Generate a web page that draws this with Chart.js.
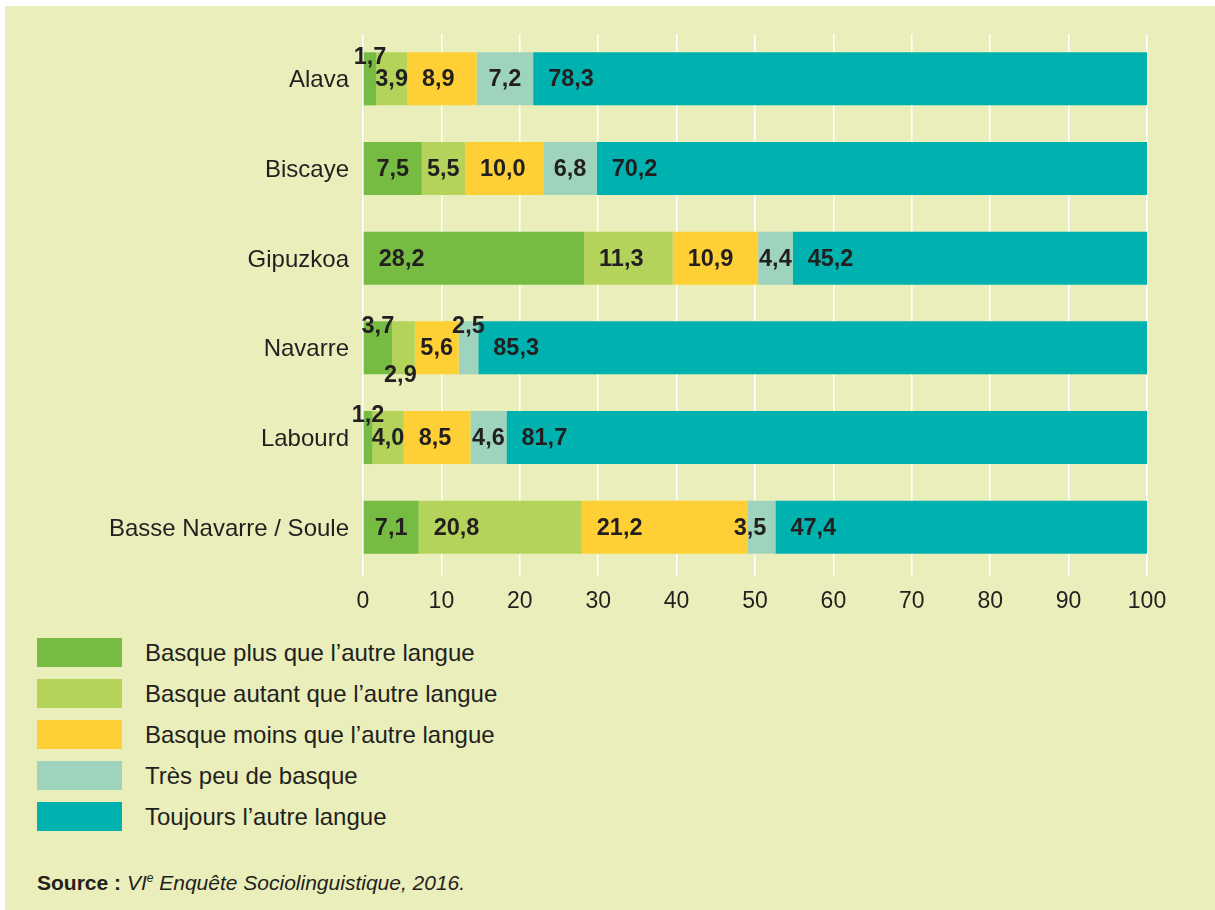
<!DOCTYPE html>
<html lang="fr">
<head>
<meta charset="utf-8">
<script src="https://cdn.jsdelivr.net/npm/chart.js@4/dist/chart.umd.min.js"></script>
<style>
  html, body { margin: 0; padding: 0; background: #ffffff; }
  #wrap { position: relative; width: 1215px; height: 910px; overflow: hidden; }
  #panel { position: absolute; left: 5px; top: 6px; right: 0; bottom: 0; background: #EAEEBA; }
  #chartBox { position: absolute; left: 0; top: 0; width: 1215px; height: 625px; }
  #legend { position: absolute; left: 37px; top: 638px; font-family: "Liberation Sans", Arial, sans-serif; font-size: 24px; color: #231F20; }
  .row { position: relative; height: 41px; }
  .sw { position: absolute; left: 0; top: 0; width: 85px; height: 29px; }
  .lt { position: absolute; left: 108px; top: 0; line-height: 29px; white-space: nowrap; }
  #source { position: absolute; left: 37px; top: 871px; font-family: "Liberation Sans", Arial, sans-serif; font-size: 21px; color: #231F20; white-space: nowrap; }
  #source b { font-weight: bold; }
  #source i sup { font-size: 12px; vertical-align: 8px; line-height: 0; }
</style>
</head>
<body>
<div id="wrap">
  <div id="panel"></div>
  <div id="chartBox"><canvas id="c" width="1215" height="625"></canvas></div>
  <div id="legend"></div>
  <div id="source"><b>Source :</b> <i>VI<sup>e</sup> Enquête Sociolinguistique, 2016.</i></div>
</div>
<script>
// ---- data ----
const categories = ["Alava", "Biscaye", "Gipuzkoa", "Navarre", "Labourd", "Basse Navarre / Soule"];
const seriesNames = [
  "Basque plus que l\u2019autre langue",
  "Basque autant que l\u2019autre langue",
  "Basque moins que l\u2019autre langue",
  "Tr\u00e8s peu de basque",
  "Toujours l\u2019autre langue"
];
const plusQue    = [1.7, 7.5, 28.2, 3.7, 1.2, 7.1];
const autantQue  = [3.9, 5.5, 11.3, 2.9, 4.0, 20.8];
const moinsQue   = [8.9, 10.0, 10.9, 5.6, 8.5, 21.2];
const tresPeu    = [7.2, 6.8, 4.4, 2.5, 4.6, 3.5];
const toujours   = [78.3, 70.2, 45.2, 85.3, 81.7, 47.4];
const xTicks = [0, 10, 20, 30, 40, 50, 60, 70, 80, 90, 100];

// ---- styles ----
const colors = ["#76BC43", "#B3D35A", "#FFD035", "#9ED4BD", "#00B2AF"];
const textColor = "#231F20";
const fontFamily = '"Liberation Sans", Arial, sans-serif';

// label placement overrides for narrow segments (presentation only)
const labelPlacement = {
  "Alava": {0: "above"},
  "Navarre": {0: "above", 1: "below", 3: "above"},
  "Labourd": {0: "above"},
  "Basse Navarre / Soule": {3: "left"}
};

const allSeries = [plusQue, autantQue, moinsQue, tresPeu, toujours];

const fmt = v => v.toFixed(1).replace(".", ",");

const valueLabels = {
  id: "valueLabels",
  afterDatasetsDraw(chart) {
    const ctx = chart.ctx;
    ctx.save();
    ctx.font = "bold 23.5px " + fontFamily;
    ctx.fillStyle = textColor;
    ctx.textBaseline = "middle";
    chart.data.datasets.forEach((ds, di) => {
      const meta = chart.getDatasetMeta(di);
      meta.data.forEach((el, i) => {
        const v = ds.data[i];
        const txt = fmt(v);
        const w = ctx.measureText(txt).width;
        const x0 = Math.min(el.base, el.x), x1 = Math.max(el.base, el.x);
        const top = el.y - el.height / 2, bottom = el.y + el.height / 2;
        const center = (x0 + x1) / 2;
        const place = (labelPlacement[categories[i]] || {})[di];
        let x, y = el.y + 1;
        ctx.textAlign = "center";
        if (place === "above") {
          x = center; y = top + 5;
        } else if (place === "below") {
          x = center - 3; y = bottom + 1;
        } else if (place === "left") {
          ctx.textAlign = "right";
          x = x1 - 9;
        } else {
          x = Math.min(center, x0 + 15 + w / 2);
        }
        ctx.fillText(txt, x, y);
      });
    });
    ctx.restore();
  }
};

new Chart(document.getElementById("c"), {
  type: "bar",
  data: {
    labels: categories,
    datasets: allSeries.map((d, i) => ({
      label: seriesNames[i],
      data: d,
      backgroundColor: colors[i],
      borderWidth: 0,
      barPercentage: 0.592,
      categoryPercentage: 1
    }))
  },
  options: {
    indexAxis: "y",
    responsive: false,
    animation: false,
    layout: { padding: { top: 34, right: 68, left: 0, bottom: 3 } },
    plugins: { legend: { display: false }, tooltip: { enabled: false } },
    scales: {
      x: {
        stacked: true,
        min: 0, max: 100,
        afterBuildTicks(scale) { scale.ticks = xTicks.map(v => ({ value: v })); },
        grid: { color: "#FFFFFF", lineWidth: 1.5, tickLength: 4, drawTicks: true },
        border: { display: false },
        ticks: { color: textColor, font: { family: fontFamily, size: 23 }, padding: 12, maxRotation: 0 },
        afterFit(scale) { scale.height = 50; }
      },
      y: {
        stacked: true,
        grid: { display: false, drawTicks: false },
        border: { display: false },
        ticks: { color: textColor, font: { family: fontFamily, size: 24 }, padding: 14, labelOffset: 2 },
        afterFit(scale) { scale.width = 363; }
      }
    }
  },
  plugins: [valueLabels]
});

// HTML legend built from series names and colours
const leg = document.getElementById("legend");
seriesNames.forEach((name, i) => {
  const row = document.createElement("div");
  row.className = "row";
  const sw = document.createElement("div");
  sw.className = "sw";
  sw.style.background = colors[i];
  const lt = document.createElement("div");
  lt.className = "lt";
  lt.textContent = name;
  row.appendChild(sw); row.appendChild(lt);
  leg.appendChild(row);
});
</script>
</body>
</html>
